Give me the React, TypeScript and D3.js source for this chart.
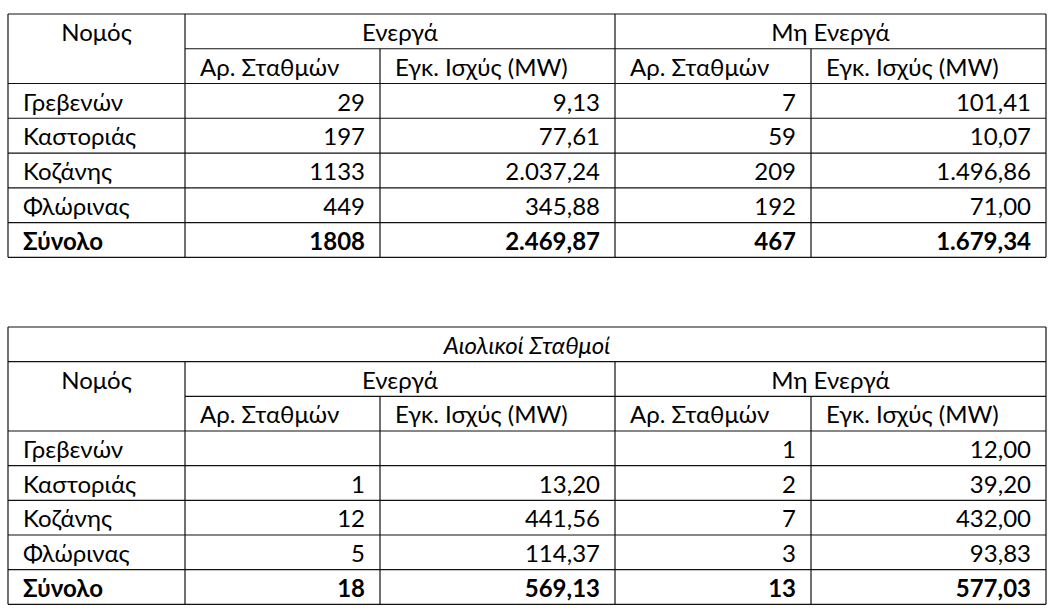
import * as d3 from 'd3';
import React from 'react';

// Νομοί (row labels)
const nomoi = ['Γρεβενών', 'Καστοριάς', 'Κοζάνης', 'Φλώρινας'];
const totalLabel = 'Σύνολο';

// Φωτοβολταϊκοί (table 1)
const pvActiveCount = [29, 197, 1133, 449];
const pvActivePower = [9.13, 77.61, 2037.24, 345.88];
const pvInactiveCount = [7, 59, 209, 192];
const pvInactivePower = [101.41, 10.07, 1496.86, 71.0];
const pvTotals = [1808, 2469.87, 467, 1679.34];

// Αιολικοί Σταθμοί (table 2)
const windActiveCount = [null, 1, 12, 5];
const windActivePower = [null, 13.2, 441.56, 114.37];
const windInactiveCount = [1, 2, 7, 3];
const windInactivePower = [12.0, 39.2, 432.0, 93.83];
const windTotals = [18, 569.13, 13, 577.03];

const groupLabels = ['Ενεργά', 'Μη Ενεργά'];
const subLabels = ['Αρ. Σταθμών', 'Εγκ. Ισχύς (MW)'];
const firstHeader = 'Νομός';
const windTitle = 'Αιολικοί Σταθμοί';

const locale = d3.formatLocale({ decimal: ',', thousands: '.', grouping: [3], currency: ['', '€'] });
const fmtPower = locale.format(',.2f');
const fmtCount = (v: number | null) => (v == null ? '' : String(v));
const fmtP = (v: number | null) => (v == null ? '' : fmtPower(v));

const FONT = 'Lato, "Open Sans", sans-serif';
const FS = 24;
const colEdges = [8, 185, 380, 615, 811, 1046];
const PAD = 15;
const BASE = 27;

const Table = ({ top, bottom, title, counts1, powers1, counts2, powers2, totals }: any) => {
  const nRows = (title ? 1 : 0) + 2 + nomoi.length + 1;
  const y = d3.scaleLinear().domain([0, nRows]).range([top, bottom]);
  const x = (i: number) => colEdges[i];
  const off = title ? 1 : 0;
  const stroke = '#111';
  const lines: any[] = [];
  const hl = (r: number, x0: number, x1: number) =>
    lines.push(<line key={'h' + r + '-' + x0} x1={x0} x2={x1} y1={y(r)} y2={y(r)} stroke={stroke} strokeWidth={1.2} />);
  const vl = (c: number, r0: number) =>
    lines.push(<line key={'v' + c} x1={x(c)} x2={x(c)} y1={y(r0)} y2={y(nRows)} stroke={stroke} strokeWidth={1.2} />);

  // horizontal lines
  hl(0, x(0), x(5));
  if (title) hl(1, x(0), x(5));
  hl(off + 1, x(1), x(5));
  for (let r = off + 2; r <= nRows; r++) hl(r, x(0), x(5));
  // vertical lines
  vl(0, 0);
  vl(5, 0);
  vl(1, off);
  vl(3, off);
  vl(2, off + 1);
  vl(4, off + 1);

  const texts: any[] = [];
  const t = (key: string, tx: number, r: number, s: string, anchor: string, bold = false, italic = false) =>
    texts.push(
      <text key={key} x={tx} y={y(r) + BASE} textAnchor={anchor} fontWeight={bold ? 'bold' : 'normal'}
        fontStyle={italic ? 'italic' : 'normal'}>{s}</text>
    );
  const mid = (a: number, b: number) => (x(a) + x(b)) / 2;

  if (title) t('title', mid(0, 5), 0, title, 'middle', false, true);
  t('nomos', mid(0, 1), off, firstHeader, 'middle');
  t('g1', mid(1, 3), off, groupLabels[0], 'middle');
  t('g2', mid(3, 5), off, groupLabels[1], 'middle');
  [1, 2, 3, 4].forEach((c, i) => t('s' + c, x(c) + PAD, off + 1, subLabels[i % 2], 'start'));

  nomoi.forEach((n, i) => {
    const r = off + 2 + i;
    t('n' + i, x(0) + PAD, r, n, 'start');
    t('a' + i, x(2) - PAD, r, fmtCount(counts1[i]), 'end');
    t('b' + i, x(3) - PAD, r, fmtP(powers1[i]), 'end');
    t('c' + i, x(4) - PAD, r, fmtCount(counts2[i]), 'end');
    t('d' + i, x(5) - PAD, r, fmtP(powers2[i]), 'end');
  });
  const tr = off + 2 + nomoi.length;
  t('tl', x(0) + PAD, tr, totalLabel, 'start', true);
  t('t1', x(2) - PAD, tr, fmtCount(totals[0]), 'end', true);
  t('t2', x(3) - PAD, tr, fmtP(totals[1]), 'end', true);
  t('t3', x(4) - PAD, tr, fmtCount(totals[2]), 'end', true);
  t('t4', x(5) - PAD, tr, fmtP(totals[3]), 'end', true);

  return (
    <g>
      {lines}
      <g fontFamily={FONT} fontSize={FS} fill="#000">{texts}</g>
    </g>
  );
};

const App = () => (
  <svg width={1062} height={616} style={{ position: 'absolute', left: 0, top: 0, background: '#fff' }}>
    <rect width={1062} height={616} fill="#fff" />
    <Table top={14} bottom={257.3} counts1={pvActiveCount} powers1={pvActivePower}
      counts2={pvInactiveCount} powers2={pvInactivePower} totals={pvTotals} />
    <Table top={327} bottom={604.3} title={windTitle} counts1={windActiveCount} powers1={windActivePower}
      counts2={windInactiveCount} powers2={windInactivePower} totals={windTotals} />
  </svg>
);

export default App;
